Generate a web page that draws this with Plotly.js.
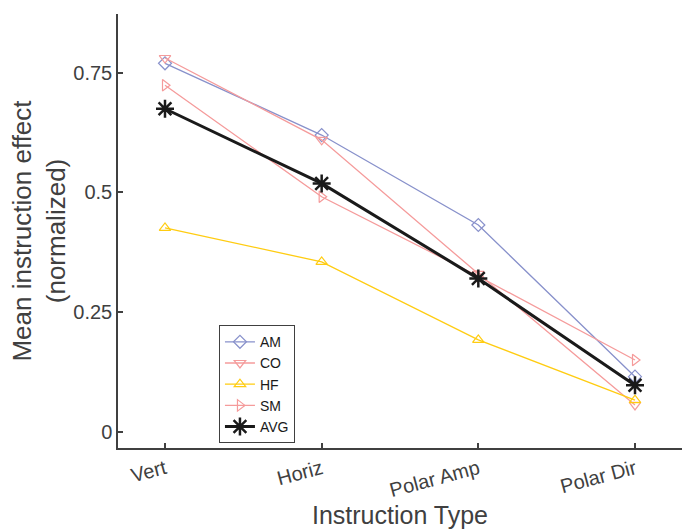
<!DOCTYPE html>
<html><head><meta charset="utf-8">
<script src="https://cdn.plot.ly/plotly-3.0.1.min.js"></script>
<style>html,body{margin:0;padding:0;background:#fff}</style>
</head><body><div id="chart" style="width:682px;height:529px"></div>
<script>
const categories = [0, 1, 2, 3];
const tickLabels = ["Vert", "Horiz", "Polar Amp", "Polar Dir"];
const AM  = [0.770, 0.620, 0.432, 0.115];
const CO  = [0.781, 0.610, 0.330, 0.056];
const HF  = [0.426, 0.355, 0.192, 0.066];
const SM  = [0.724, 0.491, 0.325, 0.150];
const AVG = [0.675, 0.519, 0.320, 0.097];
const yTickVals = [0, 0.25, 0.5, 0.75];
const yTickText = ["0", "0.25", "0.5", "0.75"];

const blue = "#8891cb", pink = "#f59b9b", gold = "#ffcc11", black = "#1a1a1a";
function tr(name, y, color, symbol, size, lw) {
  return {x: categories, y: y, name: name, type: "scatter", mode: "lines+markers",
    line: {color: color, width: lw},
    marker: {symbol: symbol, size: size, color: color, line: {color: color, width: lw === 3 ? 2.5 : 1.2}}};
}
const data = [
  tr("AM", AM, blue, "diamond-open", 10, 1.3),
  tr("CO", CO, pink, "triangle-down-open", 10, 1.3),
  tr("HF", HF, gold, "triangle-up-open", 10, 1.3),
  tr("SM", SM, pink, "triangle-right-open", 10, 1.3),
  tr("AVG", AVG, black, "asterisk-open", 15, 3)
];
const axColor = "#404040";
const layout = {
  width: 682, height: 529,
  margin: {l: 118, r: 0, t: 14, b: 81},
  paper_bgcolor: "#fff", plot_bgcolor: "#fff",
  font: {family: "Liberation Sans, Arial, sans-serif", color: axColor},
  showlegend: true,
  legend: {x: 0.179, y: 0.283, xanchor: "left", yanchor: "top",
    bordercolor: axColor, borderwidth: 1, bgcolor: "#fff",
    font: {size: 14, color: "#1a1a1a"}, tracegroupgap: 0, itemwidth: 30},
  xaxis: {range: [-0.3, 3.3], tickvals: categories, ticktext: tickLabels,
    tickangle: -15, ticks: "inside", ticklen: 5, tickcolor: axColor, tickwidth: 1.5,
    showline: true, linecolor: axColor, linewidth: 1.5, showgrid: false, zeroline: false,
    tickfont: {size: 20, color: axColor},
    title: {text: "Instruction Type", font: {size: 25, color: axColor}, standoff: 2}},
  yaxis: {range: [-0.034, 0.873], tickvals: yTickVals, ticktext: yTickText,
    ticks: "inside", ticklen: 5, tickcolor: axColor, tickwidth: 1.5,
    showline: true, linecolor: axColor, linewidth: 1.5, showgrid: false, zeroline: false,
    tickfont: {size: 20, color: axColor},
    title: {text: "Mean instruction effect<br>(normalized)", font: {size: 26, color: axColor}, standoff: 0}}
};
Plotly.newPlot("chart", data, layout, {displayModeBar: false});
</script></body></html>
